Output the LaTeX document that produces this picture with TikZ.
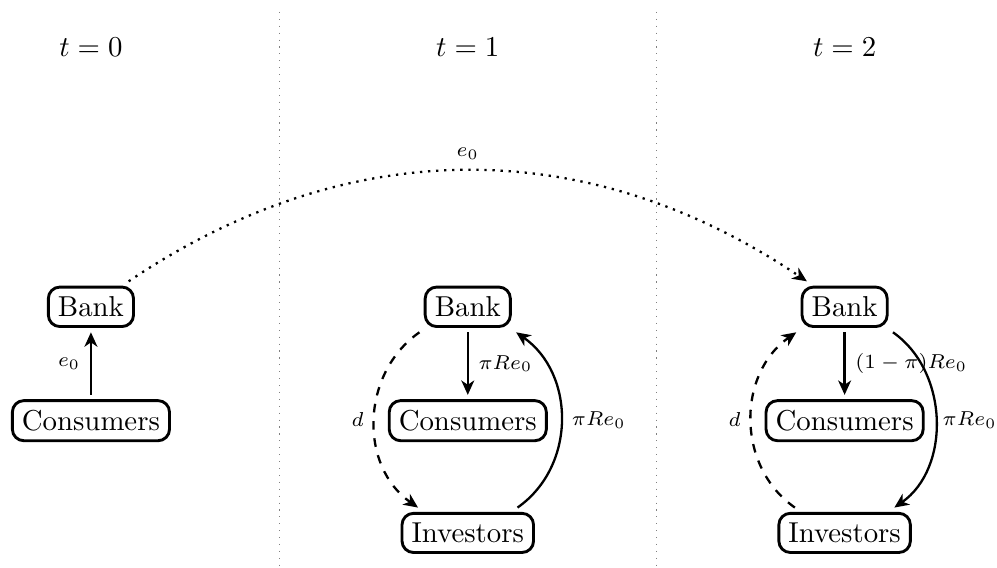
\documentclass[tikz,border=0pt]{standalone}
\usetikzlibrary{arrows.meta}
\tikzset{
  agent/.style={draw, line width=1pt, rounded corners, outer sep=2pt},
  flow/.style={thick, -{Stealth[length=5pt,width=4.5pt,inset=1.5pt]}},
  lbl/.style={font=\scriptsize}
}
\begin{document}
\begin{tikzpicture}
        \useasboundingbox (-1.11,-3.188) rectangle (11.06,3.745);

        %periods
        \foreach \t/\x in {0/0,1/4.6,2/9.2}{
          \node (t\t) at (\x,3.17) {$t=\t$};
        }

        %separators between periods
        \foreach \x in {2.3,6.9}{
          \draw[gray, dotted] (\x,3.6) -- (\x,-3.2);
        }

        %t = 0
        \node[agent] (bank0) at (0,0) {Bank};
        \node[agent] (cons0) at (0,-1.39) {Consumers};
        \draw[flow] (cons0) -- node[left,lbl] {$e_0$} (bank0);

        %t = 1
        \node[agent] (bank1) at (4.6,0) {Bank};
        \node[agent] (cons1) at (4.6,-1.39) {Consumers};
        \node[agent] (inv1) at (4.6,-2.76) {Investors};
        \draw[flow] (bank1) -- node[right,lbl] {$\pi Re_0$} (cons1);
        \draw[flow, dashed] (bank1.south west) to[out=215,in=145,looseness=1.05] node[left,lbl] {$d$} (inv1.153);
        \draw[flow] (inv1.27) to[out=35,in=-35,looseness=1.05] node[right,lbl] {$\pi Re_0$} (bank1.south east);

        %t = 2
        \node[agent] (bank2) at (9.2,0) {Bank};
        \node[agent] (cons2) at (9.2,-1.39) {Consumers};
        \node[agent] (inv2) at (9.2,-2.76) {Investors};
        \draw[flow] (bank2) -- node[right,lbl] {$(1-\pi)Re_0$} (cons2);
        \draw[flow, dashed] (inv2.153) to[out=145,in=215,looseness=1.05] node[left,lbl] {$d$} (bank2.south west);
        \draw[flow] (bank2.south east) to[out=-35,in=35,looseness=1.0] node[right,lbl,inner sep=2pt] {$\pi Re_0$} (inv2.27);

        %deposits carried from t = 0 to t = 2
        \draw[flow, dotted] (bank0) to[bend left=34] node[above,lbl] {$e_0$} (bank2);
      \end{tikzpicture}
\end{document}
